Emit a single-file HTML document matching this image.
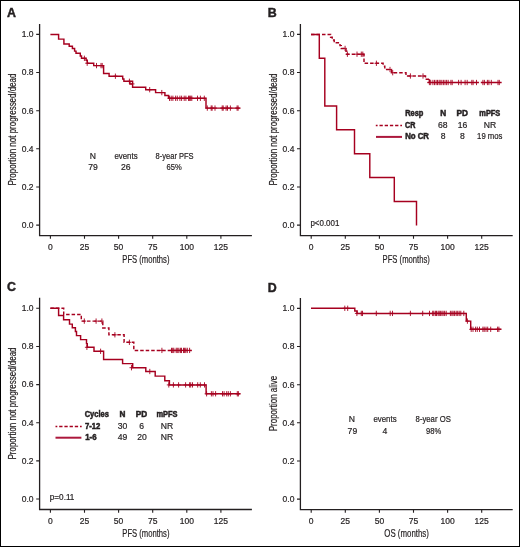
<!DOCTYPE html><html><head><meta charset="utf-8"><style>
html,body{margin:0;padding:0;background:#fff;}
svg{display:block;will-change:transform;}
text{font-family:"Liberation Sans",sans-serif;fill:#231f20;stroke:#231f20;stroke-width:0.2px;}
.tk{font-size:8.5px;}
.tb{font-size:8.6px;}
.lb{font-size:8.2px;font-weight:bold;stroke-width:0.5px;}
.pl{font-size:12.4px;font-weight:bold;stroke-width:0.45px;}
.at{font-size:10.5px;}
</style></head><body>
<svg width="520" height="547" viewBox="0 0 520 547">
<rect x="0" y="0" width="520" height="547" fill="#fff"/>
<rect x="0.5" y="0.5" width="519" height="546" fill="none" stroke="#000" stroke-width="1"/>
<text x="7.0" y="17.3" class="pl">A</text>
<text x="267.8" y="17.1" class="pl">B</text>
<text x="7.1" y="291.4" class="pl">C</text>
<text x="267.8" y="291.5" class="pl">D</text>
<path d="M39.6,23.9 V235.6 H251.9" fill="none" stroke="#231f20" stroke-width="1.3" stroke-linejoin="miter"/>
<path d="M36.2,34.4H39.6M36.2,72.54H39.6M36.2,110.68H39.6M36.2,148.82H39.6M36.2,186.96H39.6M36.2,225.1H39.6M50.4,235.6V238.8M84.5,235.6V238.8M118.6,235.6V238.8M152.7,235.6V238.8M186.8,235.6V238.8M220.9,235.6V238.8" fill="none" stroke="#231f20" stroke-width="1.1"/>
<text x="33.6" y="37.3" text-anchor="end" class="tk">1.0</text>
<text x="33.6" y="75.44" text-anchor="end" class="tk">0.8</text>
<text x="33.6" y="113.58" text-anchor="end" class="tk">0.6</text>
<text x="33.6" y="151.72" text-anchor="end" class="tk">0.4</text>
<text x="33.6" y="189.86" text-anchor="end" class="tk">0.2</text>
<text x="33.6" y="228" text-anchor="end" class="tk">0.0</text>
<text x="50.4" y="249.6" text-anchor="middle" class="tk">0</text>
<text x="84.5" y="249.6" text-anchor="middle" class="tk">25</text>
<text x="118.6" y="249.6" text-anchor="middle" class="tk">50</text>
<text x="152.7" y="249.6" text-anchor="middle" class="tk">75</text>
<text x="186.8" y="249.6" text-anchor="middle" class="tk">100</text>
<text x="220.9" y="249.6" text-anchor="middle" class="tk">125</text>
<path d="M300.4,23.9 V235.6 H512.7" fill="none" stroke="#231f20" stroke-width="1.3" stroke-linejoin="miter"/>
<path d="M297,34.4H300.4M297,72.54H300.4M297,110.68H300.4M297,148.82H300.4M297,186.96H300.4M297,225.1H300.4M311.2,235.6V238.8M345.3,235.6V238.8M379.4,235.6V238.8M413.5,235.6V238.8M447.6,235.6V238.8M481.7,235.6V238.8" fill="none" stroke="#231f20" stroke-width="1.1"/>
<text x="294.4" y="37.3" text-anchor="end" class="tk">1.0</text>
<text x="294.4" y="75.44" text-anchor="end" class="tk">0.8</text>
<text x="294.4" y="113.58" text-anchor="end" class="tk">0.6</text>
<text x="294.4" y="151.72" text-anchor="end" class="tk">0.4</text>
<text x="294.4" y="189.86" text-anchor="end" class="tk">0.2</text>
<text x="294.4" y="228" text-anchor="end" class="tk">0.0</text>
<text x="311.2" y="249.6" text-anchor="middle" class="tk">0</text>
<text x="345.3" y="249.6" text-anchor="middle" class="tk">25</text>
<text x="379.4" y="249.6" text-anchor="middle" class="tk">50</text>
<text x="413.5" y="249.6" text-anchor="middle" class="tk">75</text>
<text x="447.6" y="249.6" text-anchor="middle" class="tk">100</text>
<text x="481.7" y="249.6" text-anchor="middle" class="tk">125</text>
<path d="M39.6,297.8 V509.5 H251.9" fill="none" stroke="#231f20" stroke-width="1.3" stroke-linejoin="miter"/>
<path d="M36.2,308.3H39.6M36.2,346.44H39.6M36.2,384.58H39.6M36.2,422.72H39.6M36.2,460.86H39.6M36.2,499H39.6M50.4,509.5V512.7M84.5,509.5V512.7M118.6,509.5V512.7M152.7,509.5V512.7M186.8,509.5V512.7M220.9,509.5V512.7" fill="none" stroke="#231f20" stroke-width="1.1"/>
<text x="33.6" y="311.2" text-anchor="end" class="tk">1.0</text>
<text x="33.6" y="349.34" text-anchor="end" class="tk">0.8</text>
<text x="33.6" y="387.48" text-anchor="end" class="tk">0.6</text>
<text x="33.6" y="425.62" text-anchor="end" class="tk">0.4</text>
<text x="33.6" y="463.76" text-anchor="end" class="tk">0.2</text>
<text x="33.6" y="501.9" text-anchor="end" class="tk">0.0</text>
<text x="50.4" y="523.5" text-anchor="middle" class="tk">0</text>
<text x="84.5" y="523.5" text-anchor="middle" class="tk">25</text>
<text x="118.6" y="523.5" text-anchor="middle" class="tk">50</text>
<text x="152.7" y="523.5" text-anchor="middle" class="tk">75</text>
<text x="186.8" y="523.5" text-anchor="middle" class="tk">100</text>
<text x="220.9" y="523.5" text-anchor="middle" class="tk">125</text>
<path d="M300.4,297.9 V509.6 H512.7" fill="none" stroke="#231f20" stroke-width="1.3" stroke-linejoin="miter"/>
<path d="M297,308.4H300.4M297,346.54H300.4M297,384.68H300.4M297,422.82H300.4M297,460.96H300.4M297,499.1H300.4M311.2,509.6V512.8M345.3,509.6V512.8M379.4,509.6V512.8M413.5,509.6V512.8M447.6,509.6V512.8M481.7,509.6V512.8" fill="none" stroke="#231f20" stroke-width="1.1"/>
<text x="294.4" y="311.3" text-anchor="end" class="tk">1.0</text>
<text x="294.4" y="349.44" text-anchor="end" class="tk">0.8</text>
<text x="294.4" y="387.58" text-anchor="end" class="tk">0.6</text>
<text x="294.4" y="425.72" text-anchor="end" class="tk">0.4</text>
<text x="294.4" y="463.86" text-anchor="end" class="tk">0.2</text>
<text x="294.4" y="502" text-anchor="end" class="tk">0.0</text>
<text x="311.2" y="523.6" text-anchor="middle" class="tk">0</text>
<text x="345.3" y="523.6" text-anchor="middle" class="tk">25</text>
<text x="379.4" y="523.6" text-anchor="middle" class="tk">50</text>
<text x="413.5" y="523.6" text-anchor="middle" class="tk">75</text>
<text x="447.6" y="523.6" text-anchor="middle" class="tk">100</text>
<text x="481.7" y="523.6" text-anchor="middle" class="tk">125</text>
<text transform="translate(16.1,185.6) rotate(-90)" x="0" y="0" class="at" textLength="112" lengthAdjust="spacingAndGlyphs">Proportion not progressed/dead</text>
<text transform="translate(276.8,185.6) rotate(-90)" x="0" y="0" class="at" textLength="112" lengthAdjust="spacingAndGlyphs">Proportion not progressed/dead</text>
<text transform="translate(16.1,459.5) rotate(-90)" x="0" y="0" class="at" textLength="112" lengthAdjust="spacingAndGlyphs">Proportion not progressed/dead</text>
<text transform="translate(277.1,431.3) rotate(-90)" x="0" y="0" class="at" textLength="55.6" lengthAdjust="spacingAndGlyphs">Proportion alive</text>
<text x="122.3" y="263.2" class="at" textLength="47.2" lengthAdjust="spacingAndGlyphs">PFS (months)</text>
<text x="382.6" y="262.7" class="at" textLength="47.2" lengthAdjust="spacingAndGlyphs">PFS (months)</text>
<text x="122.3" y="536.9" class="at" textLength="47.2" lengthAdjust="spacingAndGlyphs">PFS (months)</text>
<text x="384.3" y="537.1" class="at" textLength="44.6" lengthAdjust="spacingAndGlyphs">OS (months)</text>
<path d="M50.4,34.4 H58.6 V39.1 H63.9 V43.9 H69.2 V46.3 H72.4 V48.5 H74.6 V51.1 H76 V53.3 H80.3 V55.9 H81.5 V58.3 H86.1 V60.3 H87.3 V63.2 H93.7 V65.6 H103.6 V73.4 H109.1 V76.2 H122.7 V78.9 H123.9 V81.3 H132.6 V87.2 H145.7 V89.7 H155.6 V92.6 H164.9 V95.4 H168.5 V98.3 H206 V108.1 H240.5" fill="none" stroke="#a6001f" stroke-width="1.45" stroke-linejoin="miter"/>
<path d="M84.4,55.65V60.95M82.4,58.3H86.4M87.2,60.55V65.85M85.2,63.2H89.2M96.5,62.95V68.25M94.5,65.6H98.5M101,62.95V68.25M99,65.6H103M102.2,62.95V68.25M100.2,65.6H104.2M115.4,73.55V78.85M113.4,76.2H117.4M129.4,78.65V83.95M127.4,81.3H131.4M132.5,81.25V86.55M130.5,83.9H134.5M149.7,87.05V92.35M147.7,89.7H151.7M161.8,89.95V95.25M159.8,92.6H163.8M169.5,95.65V100.95M167.5,98.3H171.5M171.2,95.65V100.95M169.2,98.3H173.2M172.9,95.65V100.95M170.9,98.3H174.9M175.6,95.65V100.95M173.6,98.3H177.6M177.3,95.65V100.95M175.3,98.3H179.3M179.9,95.65V100.95M177.9,98.3H181.9M181.6,95.65V100.95M179.6,98.3H183.6M184.2,95.65V100.95M182.2,98.3H186.2M185.9,95.65V100.95M183.9,98.3H187.9M188.5,95.65V100.95M186.5,98.3H190.5M189.6,95.65V100.95M187.6,98.3H191.6M190.7,95.65V100.95M188.7,98.3H192.7M191.8,95.65V100.95M189.8,98.3H193.8M197.5,95.65V100.95M195.5,98.3H199.5M200.4,95.65V100.95M198.4,98.3H202.4M204.3,95.65V100.95M202.3,98.3H206.3M207.3,105.45V110.75M205.3,108.1H209.3M211.2,105.45V110.75M209.2,108.1H213.2M212.1,105.45V110.75M210.1,108.1H214.1M215,105.45V110.75M213,108.1H217M222.2,105.45V110.75M220.2,108.1H224.2M223.2,105.45V110.75M221.2,108.1H225.2M226.1,105.45V110.75M224.1,108.1H228.1M227.5,105.45V110.75M225.5,108.1H229.5M230.4,105.45V110.75M228.4,108.1H232.4M237.1,105.45V110.75M235.1,108.1H239.1M238.1,105.45V110.75M236.1,108.1H240.1" fill="none" stroke="#a6001f" stroke-width="0.9"/>
<path d="M129.9,81.3 V84 H132.6" fill="none" stroke="#a6001f" stroke-width="1.45" stroke-linejoin="miter"/>
<path d="M311,34.4 H330.6 V37.2 H332.2 V40 H334.2 V42.8 H340 V45.6 H341.3 V48.4 H346 V51.3 H346.8 V54.2 H364 V63.3 H383.1 V66.1 H384.8 V69.5 H391.5 V72.7 H406 V76 H425.5 V79.3 H429.4" fill="none" stroke="#a6001f" stroke-width="1.45" stroke-dasharray="3.5 2"/>
<path d="M429.4,79.3 V82.5 M427.5,82.5 H478.9 M480.8,82.5 H501.6" fill="none" stroke="#a6001f" stroke-width="1.45" stroke-linejoin="miter"/>
<path d="M345.1,45.75V51.05M343.2,48.4H347M347.4,51.55V56.85M345.5,54.2H349.3M357,51.55V56.85M355.1,54.2H358.9M361.3,51.55V56.85M359.4,54.2H363.2M362.8,51.55V56.85M360.9,54.2H364.7M376.4,60.65V65.95M374.5,63.3H378.3M390,66.85V72.15M388.1,69.5H391.9M392.7,70.05V75.35M390.8,72.7H394.6M410.4,73.35V78.65M408.5,76H412.3M423,73.35V78.65M421.1,76H424.9M429.4,79.85V85.15M427.5,82.5H431.3M430.7,79.85V85.15M428.8,82.5H432.6M432.9,79.85V85.15M431,82.5H434.8M434.5,79.85V85.15M432.6,82.5H436.4M436.1,79.85V85.15M434.2,82.5H438M437.5,79.85V85.15M435.6,82.5H439.4M439.1,79.85V85.15M437.2,82.5H441M440.2,79.85V85.15M438.3,82.5H442.1M441.8,79.85V85.15M439.9,82.5H443.7M443.4,79.85V85.15M441.5,82.5H445.3M445,79.85V85.15M443.1,82.5H446.9M446.6,79.85V85.15M444.7,82.5H448.5M448.2,79.85V85.15M446.3,82.5H450.1M450.9,79.85V85.15M449,82.5H452.8M452.2,79.85V85.15M450.3,82.5H454.1M458.6,79.85V85.15M456.7,82.5H460.5M461.1,79.85V85.15M459.2,82.5H463M465.1,79.85V85.15M463.2,82.5H467M467.2,79.85V85.15M465.3,82.5H469.1M471.8,79.85V85.15M469.9,82.5H473.7M473.1,79.85V85.15M471.2,82.5H475M476.5,79.85V85.15M474.6,82.5H478.4M482.9,79.85V85.15M481,82.5H484.8M484.4,79.85V85.15M482.5,82.5H486.3M487.4,79.85V85.15M485.5,82.5H489.3M488.9,79.85V85.15M487,82.5H490.8M491.3,79.85V85.15M489.4,82.5H493.2M498,79.85V85.15M496.1,82.5H499.9M499.3,79.85V85.15M497.4,82.5H501.2" fill="none" stroke="#a6001f" stroke-width="0.9"/>
<path d="M311,34.4 H319.3 V58.2 H324.8 V106 H336.6 V129.8 H354.5 V153.7 H369.8 V177.5 H394.3 V201.4 H416.5 V225.4" fill="none" stroke="#a6001f" stroke-width="1.45" stroke-linejoin="miter"/>
<path d="M50.4,308.2 H63.7 V314.5 H81.3 V321.1 H102.8 V327.9 H108.9 V334.8 H124.1 V342.3 H133.8 V350.4 H191.8" fill="none" stroke="#a6001f" stroke-width="1.45" stroke-dasharray="3.5 2"/>
<path d="M84.3,318.45V323.75M82.4,321.1H86.2M96.1,318.45V323.75M94.2,321.1H98M101.9,318.45V323.75M100,321.1H103.8M114.9,332.15V337.45M113,334.8H116.8M129.4,339.65V344.95M127.5,342.3H131.3M161.9,347.75V353.05M160,350.4H163.8M171.5,347.75V353.05M169.6,350.4H173.4M172.7,347.75V353.05M170.8,350.4H174.6M173.8,347.75V353.05M171.9,350.4H175.7M176.2,347.75V353.05M174.3,350.4H178.1M177.3,347.75V353.05M175.4,350.4H179.2M178.8,347.75V353.05M176.9,350.4H180.7M180.4,347.75V353.05M178.5,350.4H182.3M181.5,347.75V353.05M179.6,350.4H183.4M183.5,347.75V353.05M181.6,350.4H185.4M184.6,347.75V353.05M182.7,350.4H186.5M185.8,347.75V353.05M183.9,350.4H187.7M187.3,347.75V353.05M185.4,350.4H189.2M189.6,347.75V353.05M187.7,350.4H191.5" fill="none" stroke="#a6001f" stroke-width="0.9"/>
<path d="M50.4,308.2 H58.6 V315.4 H63.6 V319.8 H69.5 V324.1 H72.3 V327.7 H75.4 V331.5 H76.5 V335.6 H80.6 V339.6 H86.5 V343.6 H87.3 V347.3 H94 V351.3 H103.6 V359.4 H122.6 V363.6 H132.7 V367.7 H145.8 V371.5 H155.2 V376.1 H164.8 V380.8 H169.4 V384.9 H206.1 V393.8 H240.5" fill="none" stroke="#a6001f" stroke-width="1.45" stroke-linejoin="miter"/>
<path d="M86.9,344.65V349.95M84.9,347.3H88.9M100.6,348.65V353.95M98.6,351.3H102.6M131.5,365.05V370.35M129.5,367.7H133.5M149.8,368.85V374.15M147.8,371.5H151.8M168.8,382.25V387.55M166.8,384.9H170.8M173.4,382.25V387.55M171.4,384.9H175.4M178.6,382.25V387.55M176.6,384.9H180.6M185.6,382.25V387.55M183.6,384.9H187.6M189.6,382.25V387.55M187.6,384.9H191.6M190.7,382.25V387.55M188.7,384.9H192.7M192.5,382.25V387.55M190.5,384.9H194.5M197.7,382.25V387.55M195.7,384.9H199.7M200.3,382.25V387.55M198.3,384.9H202.3M204.5,382.25V387.55M202.5,384.9H206.5M206.6,391.15V396.45M204.6,393.8H208.6M211.4,391.15V396.45M209.4,393.8H213.4M213,391.15V396.45M211,393.8H215M215.6,391.15V396.45M213.6,393.8H217.6M222.5,391.15V396.45M220.5,393.8H224.5M224.1,391.15V396.45M222.1,393.8H226.1M226.7,391.15V396.45M224.7,393.8H228.7M228.3,391.15V396.45M226.3,393.8H230.3M230.4,391.15V396.45M228.4,393.8H232.4M237.3,391.15V396.45M235.3,393.8H239.3M238.4,391.15V396.45M236.4,393.8H240.4" fill="none" stroke="#a6001f" stroke-width="0.9"/>
<path d="M311,308.3 H354.8 V311 H357.1 V313.4 H466.3 V321.1 H470.7 V329.3 H501.5" fill="none" stroke="#a6001f" stroke-width="1.45" stroke-linejoin="miter"/>
<path d="M344.8,305.65V310.95M342.8,308.3H346.8M347.7,305.65V310.95M345.7,308.3H349.7M356.9,310.75V316.05M354.9,313.4H358.9M361.3,310.75V316.05M359.3,313.4H363.3M362.5,310.75V316.05M360.5,313.4H364.5M376.3,310.75V316.05M374.3,313.4H378.3M390.2,310.75V316.05M388.2,313.4H392.2M392.5,310.75V316.05M390.5,313.4H394.5M410.4,310.75V316.05M408.4,313.4H412.4M422.7,310.75V316.05M420.7,313.4H424.7M429.5,310.75V316.05M427.5,313.4H431.5M432.7,310.75V316.05M430.7,313.4H434.7M433.8,310.75V316.05M431.8,313.4H435.8M435.4,310.75V316.05M433.4,313.4H437.4M436.5,310.75V316.05M434.5,313.4H438.5M438.1,310.75V316.05M436.1,313.4H440.1M439.2,310.75V316.05M437.2,313.4H441.2M440.4,310.75V316.05M438.4,313.4H442.4M441.9,310.75V316.05M439.9,313.4H443.9M443.1,310.75V316.05M441.1,313.4H445.1M444.6,310.75V316.05M442.6,313.4H446.6M446.2,310.75V316.05M444.2,313.4H448.2M450.4,310.75V316.05M448.4,313.4H452.4M451.9,310.75V316.05M449.9,313.4H453.9M453.1,310.75V316.05M451.1,313.4H455.1M454.6,310.75V316.05M452.6,313.4H456.6M456.2,310.75V316.05M454.2,313.4H458.2M457.7,310.75V316.05M455.7,313.4H459.7M459.2,310.75V316.05M457.2,313.4H461.2M460.8,310.75V316.05M458.8,313.4H462.8M463.8,310.75V316.05M461.8,313.4H465.8M467.4,318.45V323.75M465.4,321.1H469.4M471.2,326.65V331.95M469.2,329.3H473.2M473,326.65V331.95M471,329.3H475M475.6,326.65V331.95M473.6,329.3H477.6M477.3,326.65V331.95M475.3,329.3H479.3M479.5,326.65V331.95M477.5,329.3H481.5M482.9,326.65V331.95M480.9,329.3H484.9M484.2,326.65V331.95M482.2,329.3H486.2M486,326.65V331.95M484,329.3H488M487.7,326.65V331.95M485.7,329.3H489.7M490.7,326.65V331.95M488.7,329.3H492.7M497.6,326.65V331.95M495.6,329.3H499.6M498.9,326.65V331.95M496.9,329.3H500.9" fill="none" stroke="#a6001f" stroke-width="0.9"/>
<text x="92.8" y="158.5" text-anchor="middle" class="tb">N</text>
<text x="126" y="158.5" text-anchor="middle" class="tb" textLength="23.2" lengthAdjust="spacingAndGlyphs">events</text>
<text x="174.6" y="158.5" text-anchor="middle" class="tb" textLength="38" lengthAdjust="spacingAndGlyphs">8-year PFS</text>
<text x="93" y="169.8" text-anchor="middle" class="tb">79</text>
<text x="125.8" y="169.8" text-anchor="middle" class="tb">26</text>
<text x="174.2" y="169.8" text-anchor="middle" class="tb" textLength="15.2" lengthAdjust="spacingAndGlyphs">65%</text>
<text x="351.9" y="422" text-anchor="middle" class="tb">N</text>
<text x="385" y="422" text-anchor="middle" class="tb" textLength="23.2" lengthAdjust="spacingAndGlyphs">events</text>
<text x="433.2" y="422" text-anchor="middle" class="tb" textLength="35.2" lengthAdjust="spacingAndGlyphs">8-year OS</text>
<text x="352.4" y="433.5" text-anchor="middle" class="tb">79</text>
<text x="385" y="433.5" text-anchor="middle" class="tb">4</text>
<text x="433.6" y="433.5" text-anchor="middle" class="tb" textLength="15.2" lengthAdjust="spacingAndGlyphs">98%</text>
<text x="405.2" y="116.1" text-anchor="start" class="lb" textLength="18.2" lengthAdjust="spacingAndGlyphs">Resp</text>
<text x="443.1" y="116.1" text-anchor="middle" class="lb">N</text>
<text x="462.3" y="116.1" text-anchor="middle" class="lb">PD</text>
<text x="489.8" y="116.1" text-anchor="middle" class="lb" textLength="21" lengthAdjust="spacingAndGlyphs">mPFS</text>
<text x="405" y="127.8" text-anchor="start" class="lb" textLength="10.4" lengthAdjust="spacingAndGlyphs">CR</text>
<text x="405.2" y="139.4" text-anchor="start" class="lb" textLength="23.8" lengthAdjust="spacingAndGlyphs">No CR</text>
<text x="442.8" y="127.8" text-anchor="middle" class="tb">68</text>
<text x="462.5" y="127.8" text-anchor="middle" class="tb">16</text>
<text x="490" y="127.8" text-anchor="middle" class="tb">NR</text>
<text x="443.1" y="139.4" text-anchor="middle" class="tb">8</text>
<text x="462.3" y="139.4" text-anchor="middle" class="tb">8</text>
<text x="489.8" y="139.4" text-anchor="middle" class="tb" textLength="25.4" lengthAdjust="spacingAndGlyphs">19 mos</text>
<path d="M375.8,125.4H402" stroke="#a6001f" stroke-width="1.5" stroke-dasharray="3.3 1.9" stroke-dashoffset="1.5"/>
<path d="M376,136.9H402" stroke="#ac183c" stroke-width="2"/>
<text x="310.4" y="225.5" text-anchor="start" class="tb" textLength="29" lengthAdjust="spacingAndGlyphs">p&lt;0.001</text>
<text x="84.7" y="416.8" text-anchor="start" class="lb" textLength="24.2" lengthAdjust="spacingAndGlyphs">Cycles</text>
<text x="122.4" y="416.8" text-anchor="middle" class="lb">N</text>
<text x="141.4" y="416.8" text-anchor="middle" class="lb">PD</text>
<text x="166.9" y="416.8" text-anchor="middle" class="lb" textLength="21" lengthAdjust="spacingAndGlyphs">mPFS</text>
<text x="85" y="428.6" text-anchor="start" class="lb" textLength="15.4" lengthAdjust="spacingAndGlyphs">7-12</text>
<text x="85.2" y="440.1" text-anchor="start" class="lb" textLength="11.4" lengthAdjust="spacingAndGlyphs">1-6</text>
<text x="122.5" y="428.6" text-anchor="middle" class="tb">30</text>
<text x="141.6" y="428.6" text-anchor="middle" class="tb">6</text>
<text x="167" y="428.6" text-anchor="middle" class="tb">NR</text>
<text x="122.5" y="440.1" text-anchor="middle" class="tb">49</text>
<text x="142" y="440.1" text-anchor="middle" class="tb">20</text>
<text x="167" y="440.1" text-anchor="middle" class="tb">NR</text>
<path d="M55.5,426.4H81.7" stroke="#a6001f" stroke-width="1.5" stroke-dasharray="3.3 1.9" stroke-dashoffset="1.5"/>
<path d="M55.5,437.7H81.4" stroke="#ac183c" stroke-width="2"/>
<text x="49.8" y="500" text-anchor="start" class="tb" textLength="24.6" lengthAdjust="spacingAndGlyphs">p=0.11</text>
</svg></body></html>
